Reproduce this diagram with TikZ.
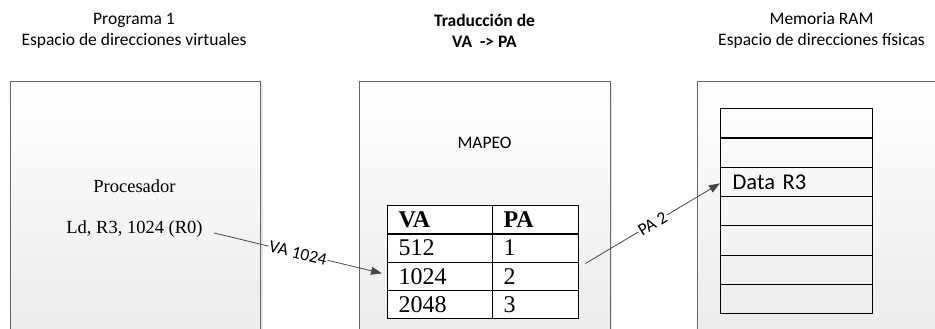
\documentclass[tikz,border=0pt]{standalone}
\usepackage{fontspec}
\setmainfont{Carlito}
\newfontfamily\seriff{Liberation Serif}
\usetikzlibrary{arrows.meta,shadows}
\begin{document}
\begin{tikzpicture}[x=1pt,y=-1pt,
  bigbox/.style={draw=black!60, line width=0.8pt, top color=white, bottom color=black!9,
    minimum width=250.5pt, minimum height=300pt, anchor=north west, inner sep=0pt,
    drop shadow={opacity=0.18, shadow xshift=2.5pt, shadow yshift=-2pt}},
  title/.style={align=center, font=\fontsize{17.5}{21}\selectfont},
  tcell/.style={draw=black, line width=1.2pt, fill=white, anchor=north west, inner sep=0pt,
    minimum height=28.3pt, text width=#1, align=left, font=\seriff\fontsize{24}{24}\selectfont},
  mcell/.style={draw=black, line width=1.2pt, anchor=north west, inner sep=0pt,
    minimum width=152pt, minimum height=29.3pt},
  conn/.style={draw=black!72, line width=0.8pt, -{Triangle[length=11pt,width=8pt]}},
  lbl/.style={font=\fontsize{17.5}{17.5}\selectfont, fill=white, inner sep=1pt, sloped}
]
\useasboundingbox (0,0) rectangle (935,329);
\clip (0,0) rectangle (935,329);

% titles
\node[title] (t1) at (134,30.5) {Programa 1\\Espacio de direcciones virtuales};
\node[title, font=\bfseries\fontsize{17.5}{21}\selectfont] (t2) at (484.5,30.5) {Traducción de\\VA \ -> PA};
\node[title] (t3) at (821.5,30.5) {Memoria RAM\\Espacio de direcciones físicas};

% boxes
\node[bigbox] (b1) at (9.5,81) {};
\node[bigbox] (b2) at (359,81) {};
\node[bigbox] (b3) at (697,81) {};

% left box texts
\node[font=\seriff\fontsize{18.5}{18.5}\selectfont] (proc) at (134.5,186) {Procesador};
\node[font=\seriff\fontsize{18.5}{18.5}\selectfont] (ld) at (134.5,229) {Ld, R3, 1024 (R0)};

% mapping
\node[font=\fontsize{17.5}{17.5}\selectfont] (mapeo) at (484.5,143) {MAPEO};
\node[tcell=105pt] (c11) at (387,205) {\hspace*{11pt}\textbf{VA}};
\node[tcell=86pt] (c12) at (492,205) {\hspace*{11pt}\textbf{PA}};
\node[tcell=105pt] (c21) at (387,233.3) {\hspace*{11pt}512};
\node[tcell=86pt] (c22) at (492,233.3) {\hspace*{11pt}1};
\node[tcell=105pt] (c31) at (387,261.6) {\hspace*{11pt}1024};
\node[tcell=86pt] (c32) at (492,261.6) {\hspace*{11pt}2};
\node[tcell=105pt] (c41) at (387,289.9) {\hspace*{11pt}2048};
\node[tcell=86pt] (c42) at (492,289.9) {\hspace*{11pt}3};

% memory
\node[mcell] (m1) at (720,108) {};
\node[mcell] (m2) at (720,137.3) {};
\node[mcell, align=left, text width=152pt, font=\fontsize{22.5}{22.5}\selectfont] (m3) at (720,166.6) {\hspace*{12pt}Data R3};
\node[mcell] (m4) at (720,195.9) {};
\node[mcell] (m5) at (720,225.2) {};
\node[mcell] (m6) at (720,254.5) {};
\node[mcell] (m7) at (720,283.8) {};

% connectors
\draw[conn] ([xshift=8pt,yshift=-4pt]ld.east) -- node[lbl] {VA 1024} ([xshift=-5pt,yshift=3pt]c31.west);
\draw[conn] ([xshift=6pt,yshift=-2pt]c32.north east) -- node[lbl] {PA 2} ([yshift=-1.5pt]m3.west);
\end{tikzpicture}
\end{document}
